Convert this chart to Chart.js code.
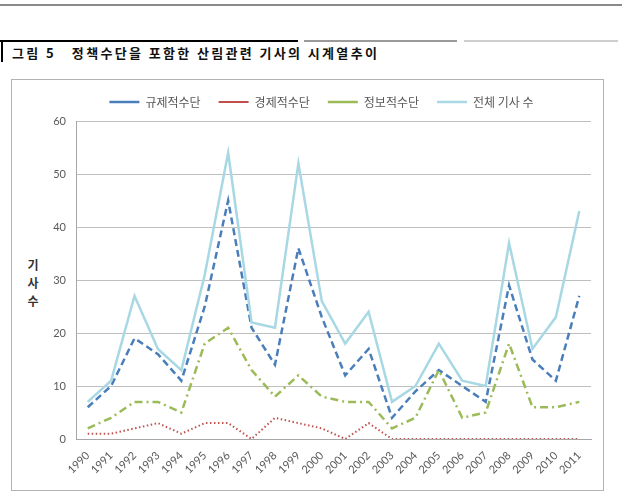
<!DOCTYPE html>
<html><head><meta charset="utf-8">
<script src="https://cdn.jsdelivr.net/npm/chart.js@4/dist/chart.umd.min.js"></script>
<style>
html,body{margin:0;padding:0;background:#fff;width:622px;height:499px;overflow:hidden;}
#wrap{position:relative;width:622px;height:499px;}
.abs{position:absolute;}
#title{left:12px;top:44px;font:bold 13px "Noto Sans CJK KR";letter-spacing:2.35px;color:#111;white-space:pre;line-height:18px;}
#frame{left:11px;top:79px;width:591px;height:410px;border:1px solid #b3b3b3;}
#ytitle{left:25px;top:256px;width:16px;font:bold 12px "Noto Sans CJK KR";line-height:18px;text-align:center;color:#333;}
canvas{position:absolute;left:0;top:0;}
</style></head>
<body><div id="wrap">
<div class="abs" style="left:0;top:4px;width:622px;height:2px;background:#8a8a8a"></div>
<div class="abs" style="left:0;top:40px;width:298px;height:2px;background:#000"></div>
<div class="abs" style="left:1px;top:40px;width:2px;height:22px;background:#000"></div>
<div class="abs" style="left:304px;top:40px;width:153px;height:2px;background:#9a9a9a"></div>
<div class="abs" style="left:464px;top:40px;width:154px;height:2px;background:#cfcfcf"></div>
<div id="title" class="abs">그림 5   정책수단을 포함한 산림관련 기사의 시계열추이</div>
<div id="frame" class="abs"></div>
<div id="ytitle" class="abs">기<br>사<br>수</div>
<canvas id="c" width="622" height="499"></canvas>
</div>
<script>
const years = ['1990','1991','1992','1993','1994','1995','1996','1997','1998','1999','2000','2001','2002','2003','2004','2005','2006','2007','2008','2009','2010','2011'];
const regulatory  = [6,10,19,16,11,25,45,21,14,36,23,12,17,4,9,13,10,7,29,15,11,27];
const economic    = [1,1,2,3,1,3,3,0,4,3,2,0,3,0,0,0,0,0,0,0,0,0];
const information = [2,4,7,7,5,18,21,13,8,12,8,7,7,2,4,13,4,5,18,6,6,7];
const total       = [7,11,27,17,13,31,54,22,21,52,26,18,24,7,10,18,11,10,37,17,23,43];
const seriesNames = ['규제적수단','경제적수단','정보적수단','전체 기사 수'];
const yMin = 0, yMax = 60, yStep = 10;

const legendFix = {
  id: 'legendFix',
  beforeLayout(chart) {
    const lg = chart.legend;
    if (lg && !lg._patched) {
      const f = lg.fit;
      lg.fit = function () { f.call(this); this.height += 3; };
      lg._patched = true;
    }
  },
  afterLayout(chart) {
    const lg = chart.legend;
    if (lg) { lg.left += 8; lg.right += 8; }
  }
};

const tickFont = { family: 'Lato', size: 11 };
new Chart(document.getElementById('c'), {
  type: 'line',
  data: {
    labels: years,
    datasets: [
      { label: seriesNames[0], data: regulatory, borderColor: '#4a7ebb', backgroundColor: '#4a7ebb', borderWidth: 2.5, borderDash: [7, 4], order: 3 },
      { label: seriesNames[1], data: economic, borderColor: '#c0504d', backgroundColor: '#c0504d', borderWidth: 2, borderDash: [1.5, 2.5], order: 2 },
      { label: seriesNames[2], data: information, borderColor: '#9bbb59', backgroundColor: '#9bbb59', borderWidth: 2.5, borderDash: [8, 4, 2, 4], order: 1 },
      { label: seriesNames[3], data: total, borderColor: '#a8d8e3', backgroundColor: '#a8d8e3', borderWidth: 2.5, order: 0 }
    ]
  },
  options: {
    responsive: false,
    animation: false,
    elements: { point: { radius: 0 }, line: { tension: 0, fill: false } },
    layout: { padding: { left: 36, right: 31, top: 78, bottom: 10 } },
    plugins: {
      tooltip: { enabled: false },
      legend: {
        position: 'top',
        labels: {
          usePointStyle: true, pointStyle: 'line', pointStyleWidth: 30, padding: 18,
          color: '#595959', font: { family: 'Noto Sans CJK KR', size: 12 },
          sort: (a, b) => a.datasetIndex - b.datasetIndex
        }
      }
    },
    scales: {
      x: {
        offset: true,
        grid: { display: false, offset: true },
        border: { display: true, color: '#a6a6a6' },
        ticks: { minRotation: 45, maxRotation: 45, autoSkip: false, font: tickFont, color: '#595959', padding: 2 },
        afterFit(s) { s.height = 50; }
      },
      y: {
        min: yMin, max: yMax,
        ticks: { stepSize: yStep, padding: 10, font: tickFont, color: '#595959' },
        grid: { color: '#bfbfbf', drawTicks: false },
        border: { display: true, color: '#a6a6a6' },
        afterFit(s) { s.width = 40; }
      }
    }
  },
  plugins: [legendFix]
});
</script>
</body></html>
